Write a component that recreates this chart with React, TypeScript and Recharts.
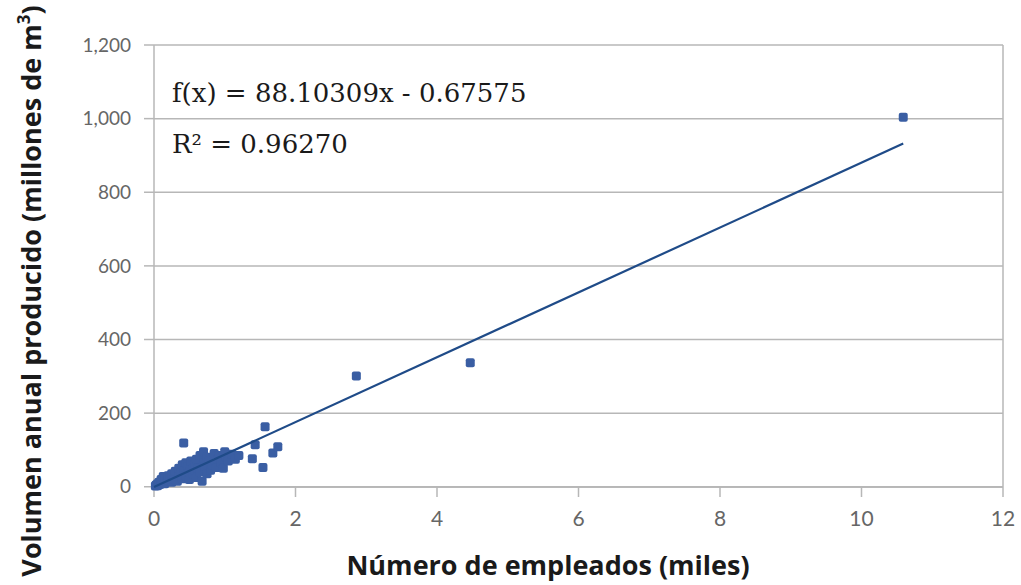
import React from "react";
import {
  CartesianGrid,
  ReferenceLine,
  Scatter,
  ScatterChart,
  XAxis,
  YAxis,
  ZAxis,
} from "recharts";

// empleados (miles) vs volumen anual (millones de m3)
const empleados = [
  0.02, 0.03, 0.05, 0.05, 0.07, 0.08, 0.1, 0.1, 0.12, 0.13, 0.15, 0.15, 0.18,
  0.2, 0.2, 0.22, 0.25, 0.25, 0.28, 0.3, 0.3, 0.33, 0.35, 0.35, 0.38, 0.4, 0.4,
  0.42, 0.43, 0.45, 0.45, 0.48, 0.5, 0.5, 0.52, 0.55, 0.55, 0.58, 0.6, 0.6,
  0.62, 0.65, 0.65, 0.68, 0.7, 0.7, 0.72, 0.75, 0.75, 0.78, 0.8, 0.82, 0.85,
  0.88, 0.9, 0.92, 0.95, 0.98, 1.0, 1.02, 1.05, 1.1, 1.15, 1.2, 1.39, 1.43,
  1.54, 1.57, 1.68, 1.75, 2.86, 4.47, 10.59,
];
const volumen = [
  2, 5, 3, 8, 12, 6, 10, 20, 15, 28, 8, 22, 14, 18, 30, 25, 12, 35, 20, 28, 42,
  15, 30, 50, 38, 22, 60, 119, 45, 30, 65, 55, 20, 40, 70, 35, 48, 60, 25, 75,
  50, 40, 85, 15, 65, 95, 55, 35, 80, 70, 45, 60, 90, 52, 75, 85, 65, 50, 95,
  80, 70, 88, 75, 85, 76, 114, 52, 163, 92, 109, 301, 337, 1004,
];

const xTicks = [0, 2, 4, 6, 8, 10, 12];
const yTicks = [0, 200, 400, 600, 800, 1000, 1200];

// regresión lineal
const slope = 88.10309;
const intercept = -0.67575;
const trendX = [0, 10.59];

const points = empleados.map((x, i) => ({ x, y: volumen[i] }));
const trend = trendX.map((x) => ({ x, y: slope * x + intercept }));

const GRID = "#b7b7b7";
const MARK = "#3a5ea3";
const LINE = "#1f4b88";
const SANS = "Lato, 'Open Sans', sans-serif";
const TITLE = "'Open Sans', sans-serif";
const SERIF = "'DejaVu Serif', serif";

const Square = (props: any) => {
  const { cx, cy } = props;
  if (cx == null || cy == null) return null;
  return <rect x={cx - 4.5} y={cy - 4.5} width={9} height={9} rx={2} fill={MARK} />;
};

const YTitle = () => (
  <text
    transform="translate(41, 291) rotate(-90)"
    textAnchor="middle"
    fontFamily={TITLE}
    fontWeight={700}
    fontSize={27}
    fill="#1a1a1a"
  >
    Volumen anual producido (millones de m
    <tspan fontSize={17} dy={-11}>3</tspan>
    <tspan dy={11}>)</tspan>
  </text>
);

export default function App() {
  return (
    <div style={{ position: "absolute", left: 0, top: 0, background: "#fff" }}>
      <ScatterChart
        width={1021}
        height={585}
        margin={{ top: 45, right: 18, bottom: 0, left: 0 }}
      >
        <CartesianGrid vertical={false} stroke={GRID} strokeWidth={1.5} />
        <XAxis
          type="number"
          dataKey="x"
          domain={[0, 12]}
          ticks={xTicks}
          height={98}
          tickSize={10}
          tickMargin={14}
          stroke={GRID}
          strokeWidth={1.5}
          tick={{ fill: "#666", fontSize: 21, fontFamily: SANS }}
        />
        <YAxis
          type="number"
          dataKey="y"
          domain={[0, 1200]}
          ticks={yTicks}
          width={154}
          tickSize={10}
          tickMargin={13}
          stroke={GRID}
          strokeWidth={1.5}
          tickFormatter={(v: number) => v.toLocaleString("en-US")}
          tick={{ fill: "#666", fontSize: 19, fontFamily: SANS }}
        />
        <ZAxis range={[81, 81]} />
        <ReferenceLine x={12} stroke={GRID} strokeWidth={1.5} />
        <Scatter data={points} shape={Square} isAnimationActive={false} />
        <Scatter
          data={trend}
          line={{ stroke: LINE, strokeWidth: 2.2 }}
          shape={() => null}
          isAnimationActive={false}
        />
        <YTitle />
        <text
          x={548}
          y={575}
          textAnchor="middle"
          fontFamily={TITLE}
          fontWeight={700}
          fontSize={27}
          fill="#1a1a1a"
        >
          Número de empleados (miles)
        </text>
        <text x={172} y={102} fontFamily={SERIF} fontSize={26} fill="#1a1a1a">
          f(x) = 88.10309x - 0.67575
        </text>
        <text x={172} y={153} fontFamily={SERIF} fontSize={26} fill="#1a1a1a">
          R² = 0.96270
        </text>
      </ScatterChart>
    </div>
  );
}
